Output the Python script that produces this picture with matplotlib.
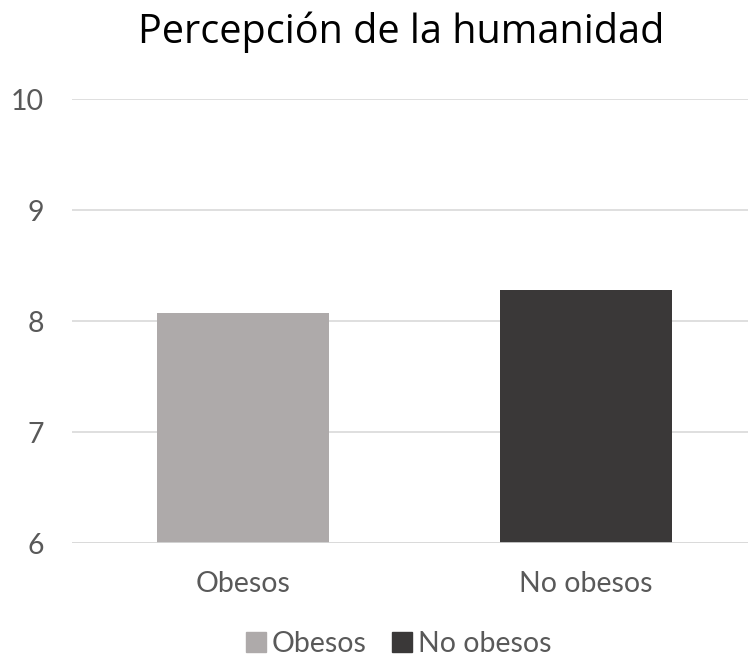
import numpy as np
import matplotlib.pyplot as plt
from matplotlib.patches import Patch

plt.rcParams['font.family'] = ['Lato', 'DejaVu Sans']

categories = ['Obesos', 'No obesos']
values = [8.07, 8.28]
colors = ['#AEAAAA', '#3A3838']
yticks = [6, 7, 8, 9, 10]

txt = '#595959'

fig = plt.figure(figsize=(7.48, 6.61), dpi=100)
ax = fig.add_axes([0.0956, 0.178, 0.917, 0.672])

x = np.arange(len(categories))
ax.bar(x, values, width=0.50, color=colors, zorder=3)

ax.set_ylim(6, 10)
ax.set_xlim(-0.5, 1.5)
ax.set_yticks(yticks)
ax.set_yticklabels([str(t) for t in yticks], fontsize=20.5, color=txt)
ax.set_xticks(x)
ax.set_xticklabels(categories, fontsize=20.5, color=txt)
ax.tick_params(axis='both', length=0)
ax.tick_params(axis='y', pad=20)
ax.tick_params(axis='x', pad=20)
ax.grid(axis='y', color='#D9D9D9', linewidth=1.2, zorder=0)
for s in ax.spines.values():
    s.set_visible(False)
ax.axhline(6, color='#D9D9D9', linewidth=1.2, zorder=4)

# title in a wider face, closer to the original
fig.text(0.536, 0.935, 'Percepción de la humanidad', fontsize=28.5,
         family=['Open Sans', 'DejaVu Sans'], color='black',
         ha='center', va='baseline')

handles = [Patch(color=c, label=l) for c, l in zip(colors, categories)]
fig.legend(handles=handles, loc='center', bbox_to_anchor=(0.533, 0.026), ncol=2,
           frameon=False, fontsize=20.5, labelcolor=txt, handlelength=0.7,
           handleheight=0.7, handletextpad=0.2, columnspacing=0.9,
           borderaxespad=0, borderpad=0)

fig.savefig('out.png', dpi=100)
